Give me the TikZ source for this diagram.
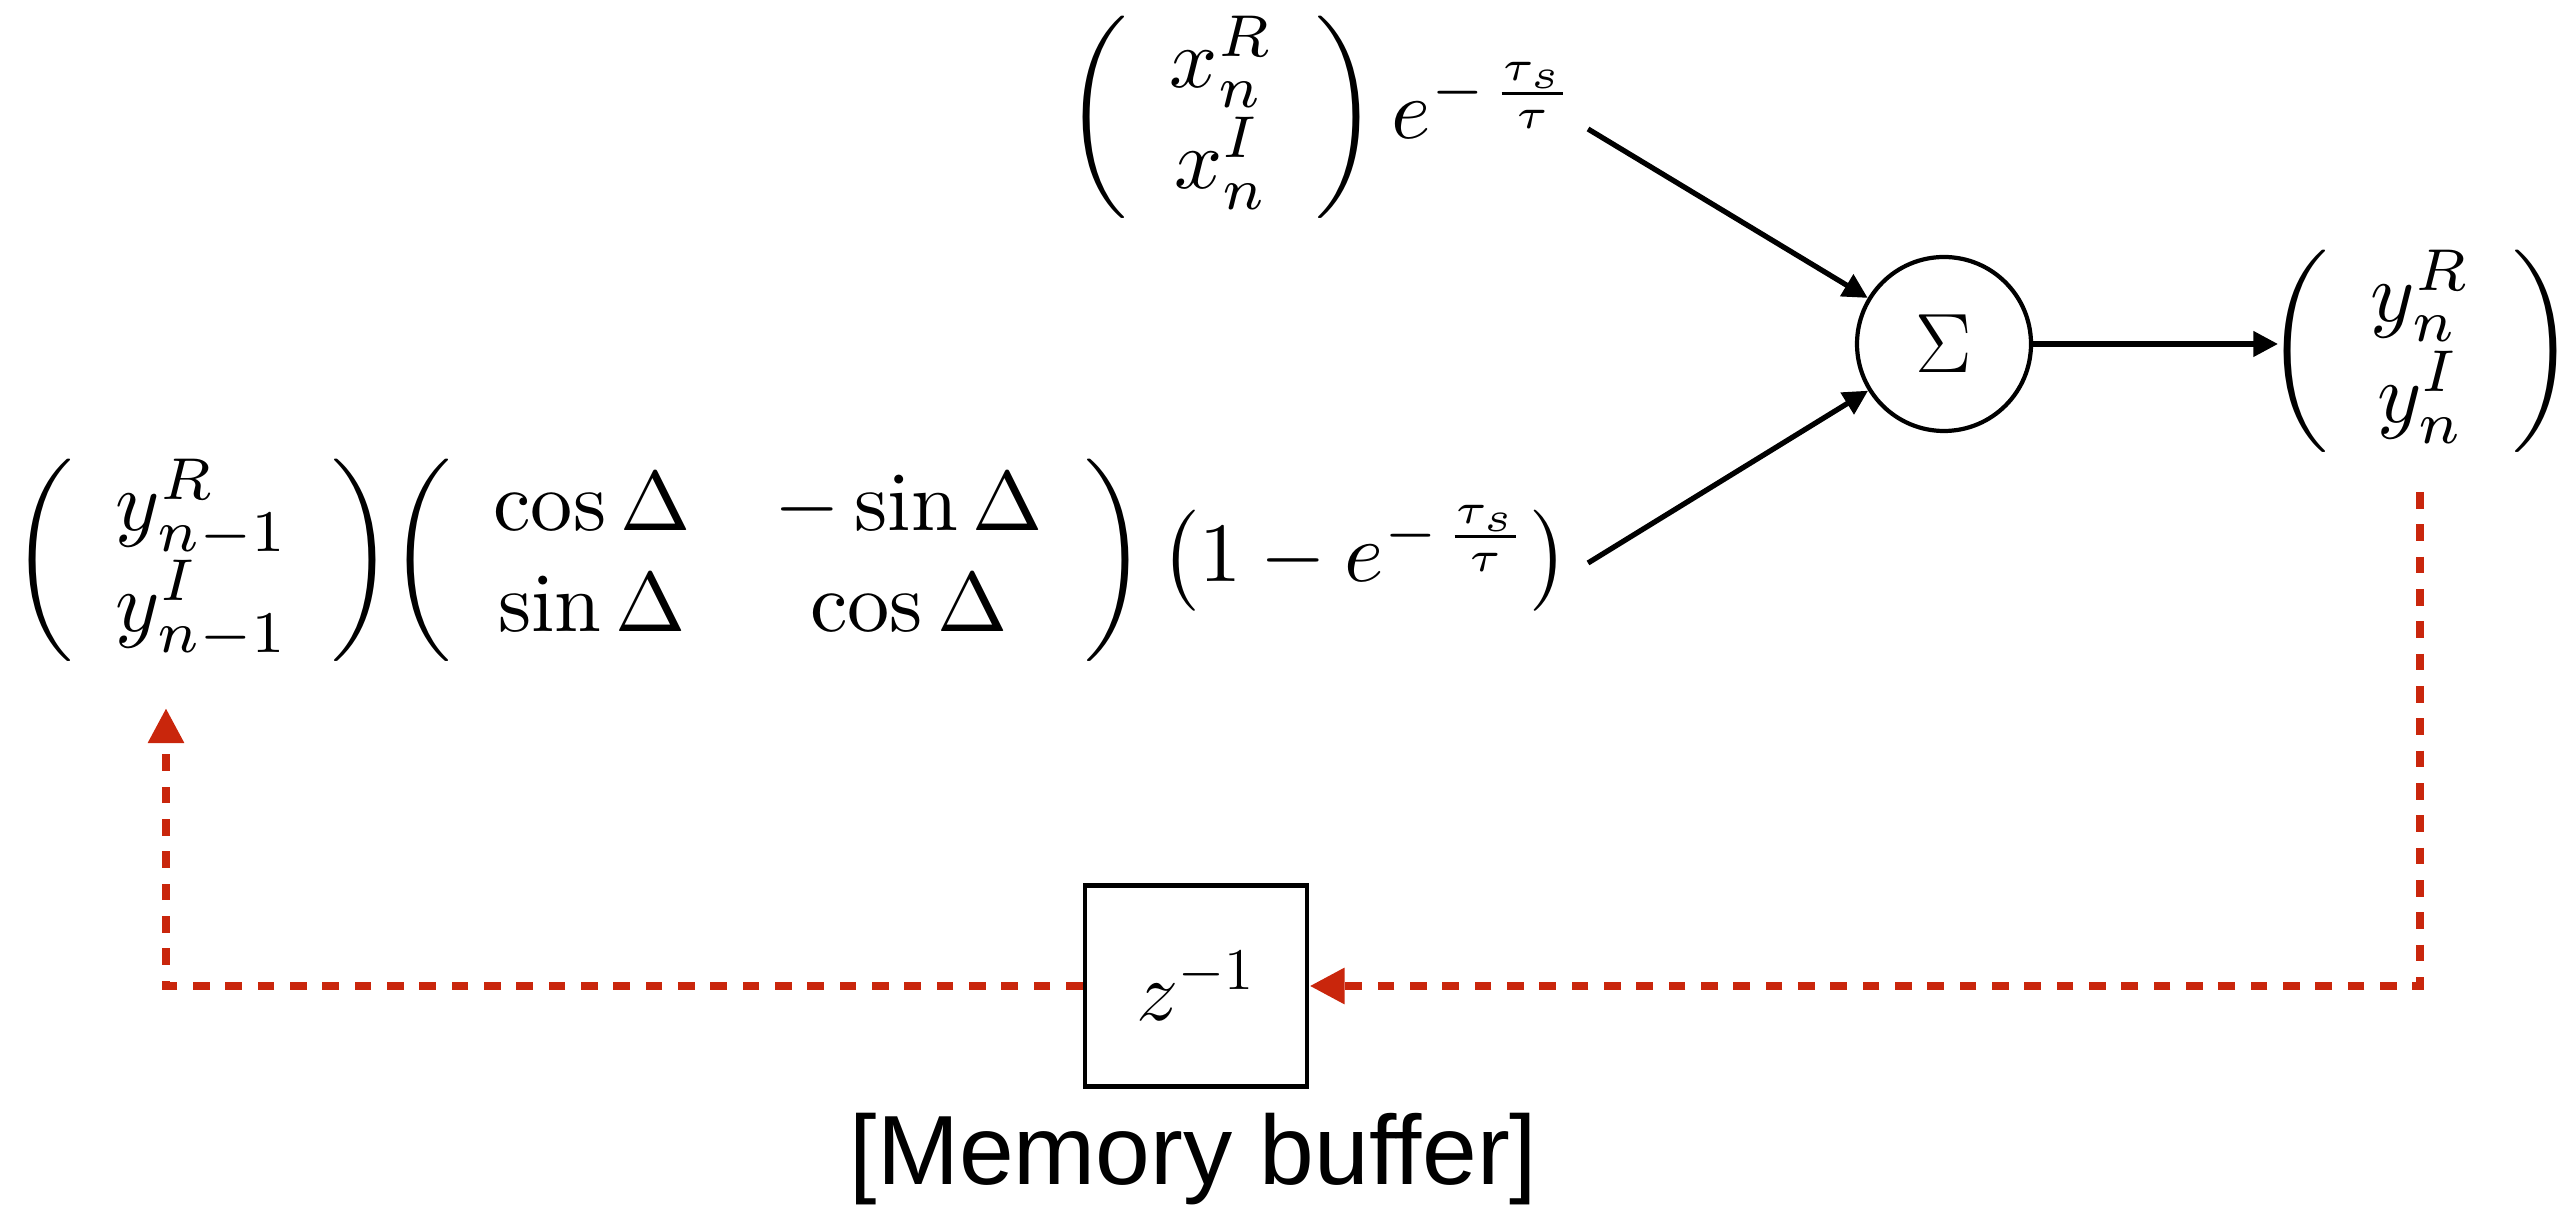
\documentclass[tikz,border=0pt]{standalone}
\usepackage{fix-cm}
\usepackage{amsmath}
\usepackage{fontspec}
\newfontfamily\labelfont{Liberation Sans}
\usetikzlibrary{arrows.meta}
\definecolor{fbred}{RGB}{201,38,12}
\tikzset{
  mathtxt/.style={inner sep=0pt, scale=2.4},
  sumnode/.style={draw, circle, line width=1.2pt, minimum size=1.74cm, inner sep=0pt, font=\fontsize{24}{29}\selectfont},
  delaybox/.style={draw, line width=1.4pt, minimum width=2.22cm, minimum height=2.01cm, inner sep=0pt, font=\fontsize{24}{29}\selectfont},
  sigarrow/.style={line width=1.5pt, -{Triangle[length=7pt,width=7pt]}},
  fbarrow/.style={draw=fbred, line width=2.5pt, dash pattern=on 4.7pt off 4.5pt, -{Triangle[length=10pt,width=9.7pt]}},
  labeltxt/.style={inner sep=0pt, anchor=base, font=\labelfont\fontsize{28}{33}\selectfont},
}
\begin{document}
\begin{tikzpicture}
\useasboundingbox (0,0) rectangle (25.69,-12.05);
\node[mathtxt, anchor=west] (inexpr) at (10.64,-1.175) {$\left(\begin{array}{c} x^R_n\\ x^I_n\end{array}\right)e^{-\mkern2mu\frac{\tau_s}{\tau}}$};
\node[mathtxt, anchor=west] (feedexpr) at (0.10,-5.605) {$\left(\begin{array}{c} y^R_{n-1}\\ y^I_{n-1}\end{array}\right)\mkern-4mu\left(\begin{array}{cc}\cos\Delta & -\sin\Delta\\ \sin\Delta & \cos\Delta\end{array}\right)\left(1-e^{-\mkern2mu\frac{\tau_s}{\tau}}\right)$};
\node[sumnode] (sum) at (19.44,-3.44) {$\Sigma$};
\node[mathtxt, anchor=west] (outvec) at (22.65,-3.515) {$\left(\begin{array}{c} y^R_n\\ y^I_n\end{array}\right)$};
\node[delaybox] (delay) at (11.96,-9.86) {$z^{-1}$};
\node[labeltxt] (membuf) at (11.935,-11.85) {[Memory buffer]};
\coordinate (a1) at (15.88,-1.29);
\coordinate (a2) at (15.88,-5.63);
\coordinate (r1) at (24.20,-4.92);
\coordinate (r2) at (1.66,-7.08);
\draw[sigarrow] (a1) -- (sum);
\draw[sigarrow] (a2) -- (sum);
\draw[sigarrow] (sum) -- ([xshift=1.3mm]outvec.west |- sum);
\draw[fbarrow] (r1) |- (delay.east);
\draw[fbarrow] (delay.west) -| (r2);
\end{tikzpicture}
\end{document}
